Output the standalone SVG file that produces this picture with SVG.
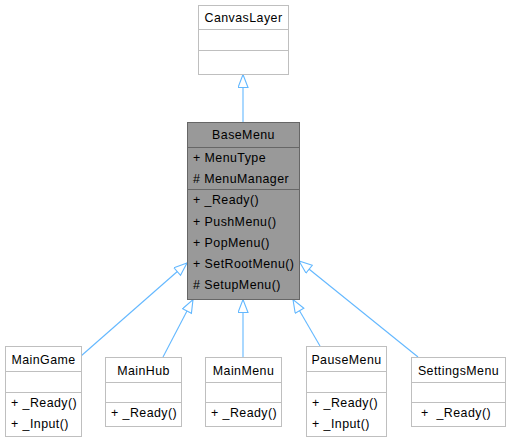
<svg xmlns="http://www.w3.org/2000/svg" width="510" height="443" viewBox="0 0 510 443">
<style>
  .box{fill:#ffffff;stroke:#bfbfbf;stroke-width:1}
  .base{fill:#999999;stroke:#666666;stroke-width:1}
  .div{stroke:#bfbfbf;stroke-width:1}
  .bdiv{stroke:#666666;stroke-width:1}
  text{font-family:"Liberation Sans",Arial,sans-serif;font-size:12.4px;letter-spacing:0.45px;fill:#000000;white-space:pre}
  .c{text-anchor:middle}
  .edge{stroke:#63b8ff;stroke-width:1.1;fill:none;marker-end:url(#tri)}
</style>
<defs>
  <marker id="tri" markerUnits="userSpaceOnUse" markerWidth="16" markerHeight="12" refX="14" refY="5.5" orient="auto">
    <path d="M1,0.5 L14,5.5 L1,10.5 Z" fill="#ffffff" stroke="#63b8ff" stroke-width="1.1"/>
  </marker>
</defs>
<g id="connectors">
  <line class="edge" x1="243" y1="122" x2="243" y2="74.5"/>
  <line class="edge" x1="81" y1="356" x2="187" y2="263"/>
  <line class="edge" x1="163" y1="357" x2="193" y2="299.5"/>
  <line class="edge" x1="243" y1="357" x2="243" y2="299.5"/>
  <line class="edge" x1="320" y1="346" x2="293" y2="299.5"/>
  <line class="edge" x1="418" y1="357" x2="299" y2="261"/>
</g>
<g id="CanvasLayer">
  <rect class="box" x="198.5" y="5.5" width="90" height="69"/>
  <line class="div" x1="198.5" y1="29.5" x2="288.5" y2="29.5"/>
  <line class="div" x1="198.5" y1="50.5" x2="288.5" y2="50.5"/>
  <text class="c" x="243.5" y="22">CanvasLayer</text>
</g>
<g id="BaseMenu">
  <rect class="base" x="187.5" y="122.5" width="112" height="177"/>
  <line class="bdiv" x1="187.5" y1="147.5" x2="299.5" y2="147.5"/>
  <line class="bdiv" x1="187.5" y1="189.5" x2="299.5" y2="189.5"/>
  <text class="c" x="243.5" y="139">BaseMenu</text>
  <text x="193" y="162">+ MenuType</text>
  <text x="193" y="183"># MenuManager</text>
  <text x="193" y="204">+ _Ready()</text>
  <text x="193" y="226">+ PushMenu()</text>
  <text x="193" y="247">+ PopMenu()</text>
  <text x="193" y="268">+ SetRootMenu()</text>
  <text x="193" y="289"># SetupMenu()</text>
</g>
<g id="MainGame">
  <rect class="box" x="5.5" y="346.5" width="76" height="90"/>
  <line class="div" x1="5.5" y1="371.5" x2="81.5" y2="371.5"/>
  <line class="div" x1="5.5" y1="392.5" x2="81.5" y2="392.5"/>
  <text class="c" x="43.5" y="364">MainGame</text>
  <text x="11" y="407">+ _Ready()</text>
  <text x="11" y="428">+ _Input()</text>
</g>
<g id="MainHub">
  <rect class="box" x="105.5" y="357.5" width="76" height="69"/>
  <line class="div" x1="105.5" y1="382.5" x2="181.5" y2="382.5"/>
  <line class="div" x1="105.5" y1="402.5" x2="181.5" y2="402.5"/>
  <text class="c" x="143.5" y="375">MainHub</text>
  <text x="111" y="417">+ _Ready()</text>
</g>
<g id="MainMenu">
  <rect class="box" x="205.5" y="357.5" width="76" height="69"/>
  <line class="div" x1="205.5" y1="382.5" x2="281.5" y2="382.5"/>
  <line class="div" x1="205.5" y1="402.5" x2="281.5" y2="402.5"/>
  <text class="c" x="243.5" y="375">MainMenu</text>
  <text x="211" y="417">+ _Ready()</text>
</g>
<g id="PauseMenu">
  <rect class="box" x="306.5" y="346.5" width="80" height="90"/>
  <line class="div" x1="306.5" y1="371.5" x2="386.5" y2="371.5"/>
  <line class="div" x1="306.5" y1="392.5" x2="386.5" y2="392.5"/>
  <text class="c" x="346.5" y="364">PauseMenu</text>
  <text x="312" y="407">+ _Ready()</text>
  <text x="312" y="428">+ _Input()</text>
</g>
<g id="SettingsMenu">
  <rect class="box" x="411.5" y="357.5" width="94" height="69"/>
  <line class="div" x1="411.5" y1="382.5" x2="505.5" y2="382.5"/>
  <line class="div" x1="411.5" y1="402.5" x2="505.5" y2="402.5"/>
  <text class="c" x="458.5" y="375">SettingsMenu</text>
  <text x="421" y="417">+  _Ready()</text>
</g>
</svg>
